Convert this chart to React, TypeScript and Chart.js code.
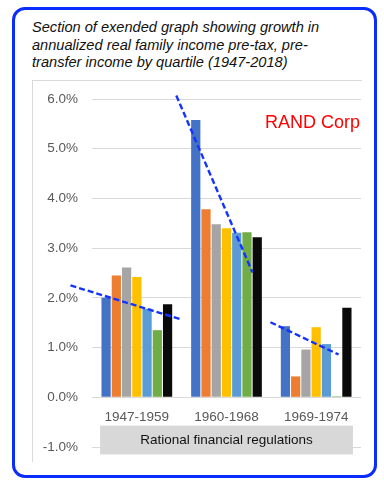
import React, { useEffect, useRef } from "react";
import { Chart, registerables } from "chart.js";

Chart.register(...registerables);

// ---- data ----
const periods = ["1947-1959", "1960-1968", "1969-1974"];
const seriesNames = ["Bottom 20%", "Second 20%", "Middle 20%", "Fourth 20%", "Top 20%", "Top 5%", "All families"];
const seriesColors = ["#4472C4", "#ED7D31", "#A5A5A5", "#FFC000", "#5B9BD5", "#70AD47", "#0a0a0a"];
const bottom20 = [2.0, 5.58, 1.43];
const second20 = [2.45, 3.78, 0.42];
const middle20 = [2.61, 3.48, 0.96];
const fourth20 = [2.42, 3.4, 1.41];
const top20 = [1.78, 3.31, 1.07];
const top5 = [1.35, 3.32, 0.02];
const allFamilies = [1.87, 3.22, 1.8];
const seriesValues = [bottom20, second20, middle20, fourth20, top20, top5, allFamilies];

const yTicks = [-1, 0, 1, 2, 3, 4, 5, 6];

// trend lines (x in category index units, y in %)
const trendStartX = [-0.74, 0.44, 1.49];
const trendStartY = [2.25, 6.07, 1.51];
const trendEndX = [0.505, 1.29, 2.25];
const trendEndY = [1.56, 2.51, 0.86];

const titleLines = [
  "Section of exended graph showing growth in",
  "annualized real family income pre-tax, pre-",
  "transfer income by quartile (1947-2018)",
];
const sourceLabel = "RAND Corp";
const sourcePos = [1.96, 5.51];
const bandLabel = "Rational financial regulations";
const bandX = [-0.41, 2.41];
const bandY = [-0.57, -1.15];

const annotationPlugin = {
  id: "annotations",
  afterDatasetsDraw(chart: any) {
    const ctx = chart.ctx;
    const xs = chart.scales.x;
    const ys = chart.scales.y;
    ctx.save();
    // band
    const bx0 = xs.getPixelForValue(bandX[0]);
    const bx1 = xs.getPixelForValue(bandX[1]);
    const by0 = ys.getPixelForValue(bandY[0]);
    const by1 = ys.getPixelForValue(bandY[1]);
    ctx.fillStyle = "#d8d8d8";
    ctx.fillRect(bx0, by0, bx1 - bx0, by1 - by0);
    ctx.fillStyle = "#111111";
    ctx.font = "13.5px Arial, 'Liberation Sans', sans-serif";
    ctx.textAlign = "center";
    ctx.textBaseline = "middle";
    ctx.fillText(bandLabel, (bx0 + bx1) / 2, (by0 + by1) / 2);
    // source label
    ctx.fillStyle = "#ff0000";
    ctx.font = "18px Arial, 'Liberation Sans', sans-serif";
    ctx.fillText(sourceLabel, xs.getPixelForValue(sourcePos[0]), ys.getPixelForValue(sourcePos[1]));
    // trend lines
    ctx.strokeStyle = "#1533ff";
    ctx.lineWidth = 2.4;
    ctx.setLineDash([6, 3]);
    for (let i = 0; i < trendStartX.length; i++) {
      ctx.beginPath();
      ctx.moveTo(xs.getPixelForValue(trendStartX[i]), ys.getPixelForValue(trendStartY[i]));
      ctx.lineTo(xs.getPixelForValue(trendEndX[i]), ys.getPixelForValue(trendEndY[i]));
      ctx.stroke();
    }
    ctx.restore();
  },
};

function ChartBox() {
  const ref = useRef<HTMLCanvasElement>(null);
  useEffect(() => {
    if (!ref.current) return;
    const chart = new Chart(ref.current, {
      type: "bar",
      data: {
        labels: periods,
        datasets: seriesValues.map((vals, i) => ({
          label: seriesNames[i],
          data: vals,
          backgroundColor: seriesColors[i],
          borderWidth: 0,
          categoryPercentage: 0.8,
          barPercentage: 0.9,
        })),
      },
      options: {
        animation: false,
        responsive: true,
        maintainAspectRatio: false,
        layout: { padding: { top: 19, bottom: 15, left: 0, right: 1 } },
        plugins: { legend: { display: false }, tooltip: { enabled: false }, title: { display: false } },
        scales: {
          x: {
            position: { y: 0 } as any,
            afterFit: (s: any) => {
              s.height = 0;
              s.paddingLeft = 0;
              s.paddingRight = 0;
              s.paddingTop = 0;
              s.paddingBottom = 0;
            },
            grid: { display: false, drawTicks: false },
            border: { display: false },
            ticks: {
              color: "#595959",
              font: { size: 13.5, family: "Arial, 'Liberation Sans', sans-serif" },
              padding: 12,
            },
          },
          y: {
            min: -1,
            max: 6,
            afterFit: (s: any) => {
              s.width = 60;
              s.paddingTop = 0;
              s.paddingBottom = 0;
            },
            afterBuildTicks: (s: any) => {
              s.ticks = yTicks.map((v) => ({ value: v }));
            },
            grid: { color: "#d9d9d9", lineWidth: 1, drawTicks: false },
            border: { display: false },
            ticks: {
              color: "#595959",
              font: { size: 13.5, family: "Arial, 'Liberation Sans', sans-serif" },
              padding: 14,
              callback: (v: any) => Number(v).toFixed(1) + "%",
            },
          },
        },
      },
      plugins: [annotationPlugin],
    });
    return () => chart.destroy();
  }, []);
  return <canvas ref={ref} />;
}

export default function App() {
  return (
    <div style={{ position: "fixed", left: 0, top: 0, width: 384, height: 488, background: "#fff", overflow: "hidden" }}>
      <div
        style={{
          position: "absolute",
          left: 12,
          top: 6.5,
          width: 365,
          height: 471,
          border: "3px solid #0a2dff",
          borderRadius: 13,
          boxSizing: "border-box",
        }}
      />
      <div
        style={{
          position: "absolute",
          left: 32,
          top: 19,
          fontFamily: "Arial, 'Liberation Sans', sans-serif",
          fontStyle: "italic",
          fontSize: 14.6,
          lineHeight: "17.5px",
          color: "#111",
          whiteSpace: "nowrap",
        }}
      >
        {titleLines.map((l, i) => (
          <div key={i}>{l}</div>
        ))}
      </div>
      <div
        style={{
          position: "absolute",
          left: 32,
          top: 80,
          width: 330,
          height: 382,
          borderTop: "1px solid #d9d9d9",
          borderLeft: "1px solid #d9d9d9",
          boxSizing: "border-box",
        }}
      />
      <div style={{ position: "absolute", left: 32, top: 80, width: 330, height: 382 }}>
        <ChartBox />
      </div>
    </div>
  );
}
